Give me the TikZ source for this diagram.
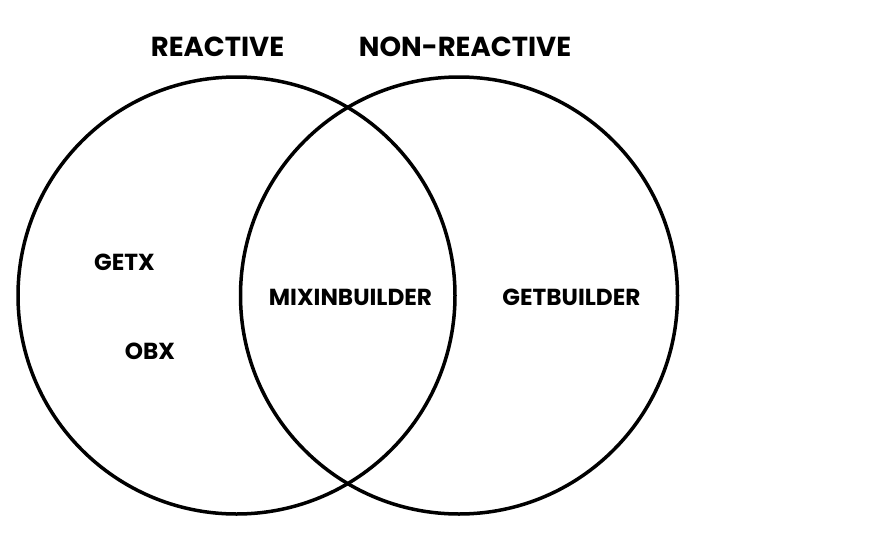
\documentclass[tikz,border=0pt]{standalone}
\usepackage{fontspec}
\setmainfont{Poppins}[UprightFont=* Bold]
\begin{document}
\begin{tikzpicture}[x=1pt,y=-1pt,
  setcircle/.style={draw=black,line width=3.5pt,circle,minimum size=437pt,inner sep=0pt},
  title/.style={font=\fontsize{27.5}{27.5}\selectfont,inner sep=0pt},
  item/.style={font=\fontsize{23.2}{23.2}\selectfont,inner sep=0pt}]
\useasboundingbox (0,0) rectangle (881,549);
\node[setcircle] (L) at (236.5,295.5) {};
\node[setcircle] (R) at (459,295.5) {};
\node[title] (t1) at (217.5,46.5) {REACTIVE};
\node[title] (t2) at (465,46.5) {NON-REACTIVE};
\node[item] (getx) at (124.5,262.5) {GETX};
\node[item] (obx) at (150,351) {OBX};
\node[item] (mix) at (350.5,297) {MIXINBUILDER};
\node[item] (gb) at (571.5,297) {GETBUILDER};
\end{tikzpicture}
\end{document}
